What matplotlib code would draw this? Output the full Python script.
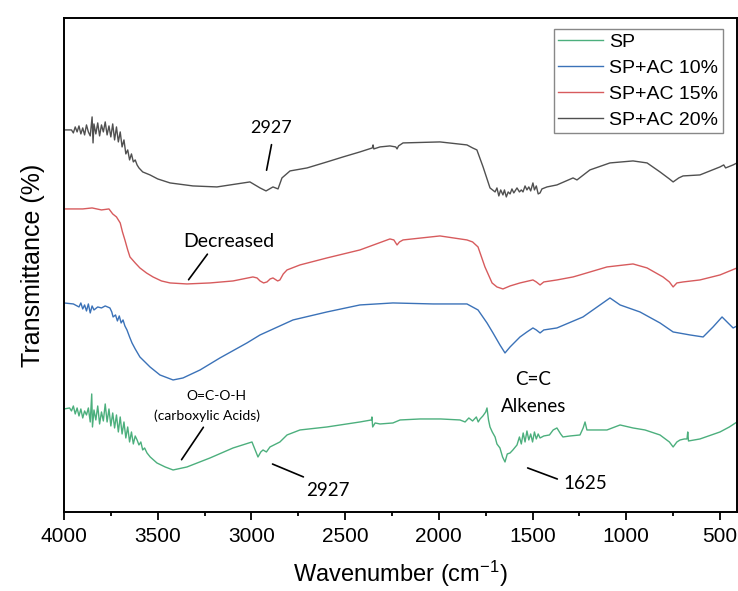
import matplotlib
matplotlib.use("Agg")
import matplotlib.pyplot as plt
from matplotlib.ticker import MultipleLocator

plt.rcParams["font.family"] = ["Liberation Sans", "DejaVu Sans"]
plt.rcParams["mathtext.default"] = "regular"

# ---------------------------------------------------------------
# FTIR spectra (stacked, arbitrary offset units)
# ---------------------------------------------------------------
wn_20 = [4000, 3960, 3950, 3940, 3930, 3920, 3910, 3900, 3890, 3880, 3870, 3860, 3850, 3845,
         3840, 3830, 3820, 3810, 3800, 3790, 3780, 3770, 3760, 3750, 3740, 3730, 3720, 3710,
         3700, 3690, 3680, 3670, 3660, 3650, 3640, 3630, 3620, 3610, 3600, 3580, 3541, 3500,
         3434, 3312, 3184, 3008, 2954, 2922, 2885, 2858, 2837, 2794, 2703, 2597, 2511, 2421,
         2355, 2351, 2347, 2314, 2261, 2230, 2223, 2215, 2191, 1994, 1850, 1820, 1797, 1764,
         1727, 1700, 1690, 1680, 1670, 1658, 1650, 1640, 1630, 1620, 1610, 1600, 1583, 1570,
         1560, 1551, 1540, 1530, 1520, 1510, 1498, 1490, 1480, 1470, 1460, 1450, 1423, 1370,
         1284, 1263, 1194, 1087, 964, 889, 820, 770, 750, 720, 697, 607, 500, 480, 470, 430, 409]
t_20 = [382, 382, 379, 385, 380, 386, 378, 384, 377, 387, 380, 376, 395, 369,
        388, 378, 389, 376, 387, 380, 390, 377, 386, 375, 388, 372, 385, 370,
        380, 365, 372, 358, 362, 352, 358, 350, 352, 347, 344, 340, 337, 333,
        329, 326, 325, 330, 324, 321, 325, 323, 334, 341, 344, 350, 355, 360,
        364, 367, 363, 365, 366, 365, 363, 366, 369, 370, 367, 364, 362, 345,
        324, 320, 324, 316, 322, 317, 322, 315, 320, 318, 323, 319, 324, 320,
        322, 320, 326, 322, 325, 321, 329, 322, 326, 318, 319, 323, 325, 327,
        334, 332, 342, 349, 351, 349, 340, 333, 330, 334, 336, 337, 345, 347, 344, 347, 349]

wn_15 = [4000, 3900, 3850, 3800, 3760, 3740, 3720, 3700, 3688, 3675, 3660, 3648, 3620, 3595,
         3560, 3525, 3480, 3434, 3344, 3221, 3098, 2992, 2970, 2954, 2935, 2917, 2900, 2885,
         2860, 2848, 2830, 2810, 2741, 2597, 2421, 2261, 2240, 2223, 2210, 2191, 1994, 1850,
         1820, 1791, 1754, 1716, 1690, 1658, 1620, 1567, 1498, 1480, 1460, 1440, 1370, 1284,
         1247, 1103, 964, 889, 804, 770, 750, 730, 697, 607, 500, 409]
t_15 = [303, 303, 304, 302, 303, 298, 295, 289, 280, 272, 262, 255, 249, 244,
        239, 235, 231, 229, 228, 229, 231, 235, 234, 231, 229, 230, 233, 234,
        231, 232, 238, 242, 247, 254, 262, 273, 272, 267, 270, 272, 276, 272,
        270, 265, 245, 229, 225, 223, 226, 229, 232, 230, 227, 230, 232, 235,
        237, 245, 248, 244, 235, 230, 225, 229, 230, 232, 237, 244]

wn_10 = [4000, 3950, 3920, 3910, 3900, 3890, 3880, 3870, 3860, 3850, 3840, 3820, 3800, 3780,
         3755, 3745, 3738, 3725, 3715, 3705, 3695, 3685, 3675, 3664, 3650, 3637, 3620, 3595,
         3541, 3488, 3418, 3365, 3274, 3168, 3024, 2954, 2778, 2597, 2421, 2245, 2031, 1850,
         1791, 1743, 1711, 1674, 1647, 1620, 1567, 1530, 1498, 1480, 1460, 1440, 1370, 1231,
         1140, 1087, 1033, 927, 820, 750, 660, 590, 537, 489, 457, 430, 409]
t_10 = [209, 208, 205, 209, 203, 207, 201, 208, 199, 206, 202, 205, 204, 206,
        204, 200, 195, 197, 191, 196, 189, 192, 186, 182, 175, 169, 163, 155,
        145, 137, 132, 134, 142, 154, 169, 177, 192, 200, 207, 209, 208, 208,
        202, 189, 179, 167, 159, 165, 175, 180, 184, 182, 179, 182, 184, 195,
        207, 214, 207, 200, 189, 180, 177, 175, 185, 195, 189, 184, 186]

wn_sp = [4000, 3970, 3960, 3950, 3940, 3930, 3920, 3910, 3900, 3890, 3880, 3870, 3860, 3852,
         3848, 3840, 3830, 3820, 3810, 3800, 3790, 3780, 3770, 3760, 3750, 3740, 3730, 3720,
         3710, 3700, 3690, 3680, 3670, 3660, 3650, 3640, 3630, 3620, 3610, 3600, 3590, 3580,
         3570, 3557, 3540, 3504, 3460, 3418, 3344, 3221, 3098, 2997, 2980, 2965, 2950, 2938,
         2920, 2901, 2848, 2810, 2741, 2597, 2421, 2360, 2357, 2353, 2340, 2314, 2245, 2207,
         2100, 1990, 1887, 1860, 1840, 1820, 1800, 1790, 1780, 1765, 1750, 1743, 1735, 1727,
         1715, 1700, 1690, 1674, 1660, 1647, 1635, 1620, 1605, 1583, 1570, 1560, 1550, 1540,
         1530, 1520, 1510, 1500, 1490, 1480, 1470, 1460, 1440, 1410, 1390, 1370, 1350, 1338,
         1300, 1247, 1230, 1220, 1210, 1194, 1103, 1033, 964, 900, 820, 770, 750, 730,
         713, 690, 676, 672, 668, 607, 500, 450, 409]
t_sp = [103, 104, 101, 106, 98, 104, 96, 103, 94, 101, 97, 104, 90, 118,
        85, 102, 92, 106, 88, 100, 91, 108, 90, 103, 86, 99, 84, 97,
        80, 95, 78, 90, 74, 85, 70, 80, 68, 76, 72, 67, 70, 62,
        64, 59, 55, 49, 45, 42, 45, 54, 64, 70, 62, 55, 60, 62,
        60, 65, 70, 77, 82, 85, 90, 92, 95, 85, 89, 88, 89, 92,
        93, 93, 92, 90, 94, 91, 95, 90, 93, 96, 100, 104, 92, 85,
        80, 75, 68, 64, 55, 50, 58, 59, 62, 67, 75, 68, 79, 70,
        81, 72, 78, 70, 80, 73, 78, 74, 76, 77, 82, 84, 78, 75,
        76, 77, 84, 90, 82, 82, 82, 87, 84, 82, 77, 70, 65, 70,
        72, 73, 73, 80, 71, 73, 80, 85, 90]

series = [
    ("SP", wn_sp, t_sp, "#4caf7d"),
    ("SP+AC 10%", wn_10, t_10, "#3b72b8"),
    ("SP+AC 15%", wn_15, t_15, "#d75b5d"),
    ("SP+AC 20%", wn_20, t_20, "#505050"),
]

fig = plt.figure(figsize=(7.38, 5.91), dpi=100)
ax = fig.add_axes([0.0867, 0.1337, 0.912, 0.836])

for name, x, y, c in series:
    ax.plot(x, y, color=c, lw=1.0, label=name)

ax.set_xlim(4000, 409)
ax.set_ylim(0, 494)
ax.xaxis.set_major_locator(MultipleLocator(500))
ax.xaxis.set_minor_locator(MultipleLocator(250))
ax.set_yticks([])
ax.tick_params(axis="x", which="major", direction="out", length=6, width=1.3, labelsize=15, pad=5)
ax.tick_params(axis="x", which="minor", direction="out", length=3, width=1.3)
for s in ax.spines.values():
    s.set_linewidth(1.4)

ax.set_xlabel("Wavenumber (cm$^{-1}$)", fontsize=17, labelpad=9)
ax.set_ylabel("Transmittance (%)", fontsize=18, labelpad=14)

# peak annotations
ann_font = dict(family=["Lato", "DejaVu Sans"], color="black")
lines = [
    ((2890, 370), (2922, 339)),
    ((3226, 260), (3344, 230)),
    ((3248, 87), (3381, 50)),
    ((2901, 49), (2709, 34)),
    ((1540, 45), (1354, 32)),
]
for (x0, y0), (x1, y1) in lines:
    ax.annotate("", xy=(x1, y1), xytext=(x0, y0),
                arrowprops=dict(arrowstyle="-", lw=1.2, color="black"))

ax.text(2895, 384, "2927", ha="center", va="center", fontsize=13, **ann_font)
ax.text(3120, 270, "Decreased", ha="center", va="center", fontsize=14, **ann_font)
ax.text(3189, 116, "O=C-O-H", ha="center", va="center", fontsize=10, **ann_font)
ax.text(3237, 96, "(carboxylic Acids)", ha="center", va="center", fontsize=10, **ann_font)
ax.text(2591, 21, "2927", ha="center", va="center", fontsize=13.5, **ann_font)
ax.text(1498, 132, "C=C", ha="center", va="center", fontsize=13.5, **ann_font)
ax.text(1493, 105, "Alkenes", ha="center", va="center", fontsize=13.5, **ann_font)
ax.text(1220, 28, "1625", ha="center", va="center", fontsize=13.5, **ann_font)

leg = ax.legend(loc="upper right", bbox_to_anchor=(0.979, 0.978), borderaxespad=0,
                fontsize=14, handlelength=2.3, handletextpad=0.3, labelspacing=0.42,
                borderpad=0.25, fancybox=False, framealpha=1)
leg.get_frame().set_edgecolor("#888888")
leg.get_frame().set_linewidth(1.0)

plt.savefig("out.png", dpi=100)
